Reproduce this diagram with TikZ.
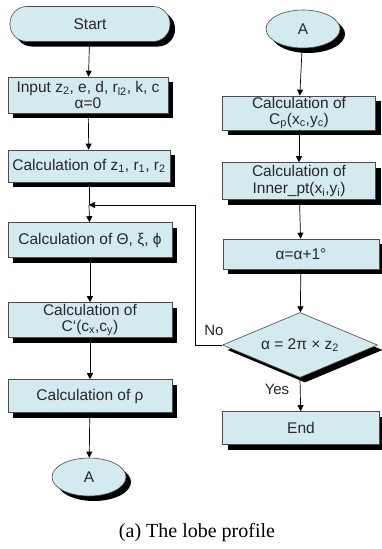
\documentclass[tikz,border=0pt]{standalone}
\usepackage{fontspec}
\setmainfont{Liberation Sans}
\newfontfamily\capfont{Liberation Serif}
\usetikzlibrary{shapes.geometric,shadows,arrows.meta}
\definecolor{boxfill}{RGB}{210,234,240}
\definecolor{txt}{RGB}{40,40,40}
\tikzset{
  shad/.style={drop shadow={shadow xshift=5pt,shadow yshift=-5pt,fill=black,opacity=1}},
  procbox/.style={draw=black!70,line width=0.6pt,fill=boxfill,shad,minimum width=#1,align=center,text=txt,font=\fontsize{15.5}{16.5}\selectfont,inner sep=1pt},
  procbox/.default=160pt,
  termbox/.style={procbox,rounded corners=17pt},
  conn/.style={ellipse,draw=black!70,line width=0.6pt,fill=boxfill,shad,minimum width=74pt,minimum height=38pt,text=txt,font=\fontsize{15.5}{16.5}\selectfont,inner sep=0pt},
  decbox/.style={diamond,aspect=2.4,draw=black!70,line width=0.6pt,fill=boxfill,shad,minimum width=155pt,minimum height=65pt,text=txt,font=\fontsize{15.5}{16.5}\selectfont,inner sep=0pt},
  arr/.style={line width=0.7pt,-{Triangle[width=6pt,length=6pt]}},
  lbl/.style={text=txt,font=\fontsize{15}{16}\selectfont}
}
\begin{document}
\begin{tikzpicture}[x=1pt,y=-1pt]
\useasboundingbox (0,0) rectangle (382,549);
\node[termbox=158pt,minimum height=35pt] (start) at (90,24) {Start};
\node[procbox=160pt,minimum height=36pt] (inp) at (88,95) {Input z\textsubscript{2}, e, d, r\textsubscript{l2}, k, c\\α=0};
\node[procbox=162pt,minimum height=32pt] (z1) at (89,166) {Calculation of z\textsubscript{1}, r\textsubscript{1}, r\textsubscript{2}};
\coordinate (j) at (89,205);
\node[procbox=164pt,minimum height=35pt] (th) at (90,240) {Calculation of Θ, ξ, ϕ};
\node[procbox=164pt,minimum height=35pt] (cp1) at (90,320) {Calculation of\\C‘(c\textsubscript{x},c\textsubscript{y})};
\node[procbox=164pt,minimum height=33pt] (rho) at (90,396) {Calculation of ρ};
\node[conn] (a1) at (89,477) {A};
\node[conn] (a2) at (303,29) {A};
\node[procbox=153pt,minimum height=32pt] (cp) at (299,113) {Calculation of\\C\textsubscript{p}(x\textsubscript{c},y\textsubscript{c})};
\node[procbox=153pt,minimum height=37pt] (inner) at (299,181) {Calculation of\\Inner\_pt(x\textsubscript{i},y\textsubscript{i})};
\node[procbox=156pt,minimum height=30pt] (alp) at (301,254) {α=α+1°};
\node[decbox] (dec) at (300,345) {α = 2π × z\textsubscript{2}};
\node[procbox=157pt,minimum height=33pt] (endn) at (301,428) {End};
\node[font=\capfont\fontsize{20}{22}\selectfont,anchor=base] (cap) at (197,537) {(a) The lobe profile};

\draw[arr] (start) -- (inp);
\draw[arr] (inp) -- (z1);
\draw[line width=0.7pt] (z1) -- (j);
\draw[arr] (j) -- (th);
\draw[arr] (th) -- (cp1);
\draw[arr] (cp1) -- (rho);
\draw[arr] (rho) -- (a1);
\draw[arr] (a2) -- (cp);
\draw[arr] (cp) -- (inner);
\draw[arr] (inner) -- (alp);
\draw[arr] (alp) -- (dec);
\draw[arr] (dec.south) -- (endn);
\draw[arr] (dec.west) -- (195,345) |- (j);
\node[lbl] (no) at (214,330) {No};
\node[lbl] (yes) at (277,389) {Yes};
\end{tikzpicture}
\end{document}
